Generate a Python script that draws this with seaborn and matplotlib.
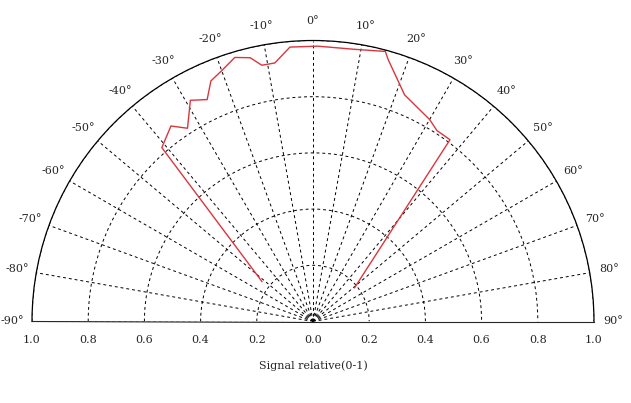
import numpy as np
import matplotlib
matplotlib.use("Agg")
import matplotlib.pyplot as plt
import seaborn as sns

# angle (deg, 0 = up, positive to the right) and relative signal
angle_deg = [-52, -41, -36, -33, -29, -25.5, -23, -20, -16.5, -13.4, -11.3,
             -8.4, -4.8, 1, 8.8, 15, 16, 22, 30, 33, 37, 51]
signal = [0.23, 0.82, 0.86, 0.82, 0.90, 0.875, 0.93, 0.95, 0.98, 0.965, 0.93,
          0.93, 0.98, 0.98, 0.98, 0.995, 0.97, 0.87, 0.83, 0.81, 0.81, 0.19]
theta_ticks = list(range(-90, 91, 10))
r_ticks = [0.2, 0.4, 0.6, 0.8, 1.0]
r_labels = ["0.2", "0.4", "0.6", "0.8", "1.0"]

sns.set_style("white")
plt.rcParams['font.family'] = ['DejaVu Serif']

fig = plt.figure(figsize=(6.31, 4.03), dpi=100)
ax = fig.add_axes([32 / 631, -59 / 403, 562 / 631, 562 / 403], projection='polar')
ax.set_theta_zero_location('N')
ax.set_theta_direction(-1)
ax.set_thetamin(-90)
ax.set_thetamax(90)
ax.set_ylim(0, 1.0)

sns.lineplot(x=np.deg2rad(angle_deg), y=signal, sort=False, color='#d9363e',
             linewidth=1.0, ax=ax)

ax.set_thetagrids(theta_ticks, labels=[f"{t}°" for t in theta_ticks], fontsize=8)
ax.set_rgrids(r_ticks, labels=[])
ax.grid(True, color='black', linestyle=(0, (3, 3)), linewidth=0.7)
ax.spines['polar'].set_color('black')
ax.spines['polar'].set_linewidth(0.9)
ax.spines['start'].set_visible(False)
ax.spines['end'].set_visible(False)
ax.set_xlabel("")
ax.set_ylabel("")

for r, lab in zip([0.0] + r_ticks, ["0.0"] + r_labels):
    for side in ([0] if r == 0 else [-90, 90]):
        ax.annotate(lab, xy=(np.deg2rad(side), r), xytext=(0, -10),
                    textcoords='offset points', ha='center', va='top', fontsize=8)
ax.annotate("Signal relative(0-1)", xy=(0, 0), xytext=(0, -28),
            textcoords='offset points', ha='center', va='top', fontsize=8)

fig.savefig("out.png", dpi=100)
